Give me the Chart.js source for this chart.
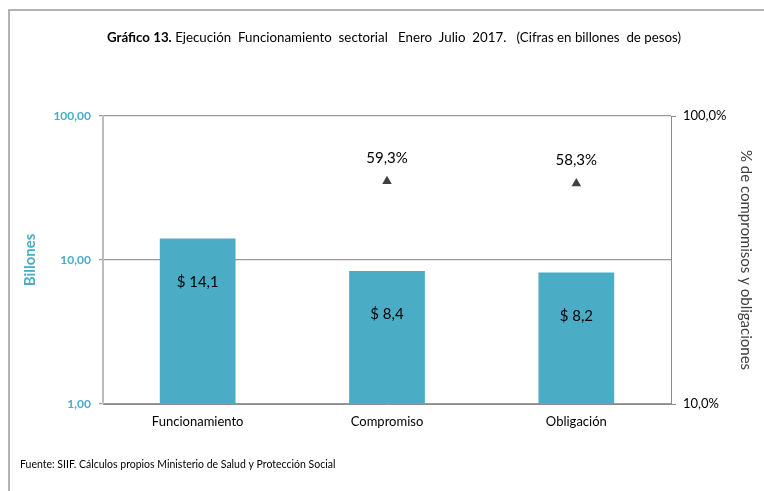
<!DOCTYPE html>
<html>
<head>
<meta charset="utf-8">
<script src="https://cdn.jsdelivr.net/npm/chart.js@4.4.1/dist/chart.umd.min.js"></script>
<style>
html,body{margin:0;padding:0;background:#fff;}
#wrap{position:relative;width:764px;height:491px;}
</style>
</head>
<body>
<div id="wrap"><canvas id="c" width="764" height="491"></canvas></div>
<script>
const categories = ['Funcionamiento', 'Compromiso', 'Obligación'];
const billones = [14.1, 8.4, 8.2];
const porcentaje = [null, 0.593, 0.583];
const leftTicks = [1, 10, 100];
const rightTicks = [0.1, 1];
const titleBold = 'Gráfico 13.';
const titleRest = ' Ejecución  Funcionamiento  sectorial   Enero  Julio  2017.   (Cifras en billones  de pesos)';
const source = 'Fuente: SIIF. Cálculos propios Ministerio de Salud y Protección Social';

const FONT = 'Lato, "Open Sans", sans-serif';
const TEAL = '#4BACC6';

const fmt = (v, d) => v.toFixed(d).replace('.', ',');

const decor = {
  id: 'decor',
  beforeDraw(chart) {
    const ctx = chart.ctx;
    ctx.save();
    ctx.fillStyle = '#fff';
    ctx.fillRect(0, 0, chart.width, chart.height);
    ctx.strokeStyle = '#9a9a9a';
    ctx.lineWidth = 1.5;
    ctx.beginPath();
    ctx.moveTo(9, chart.height);
    ctx.lineTo(9, 10);
    ctx.lineTo(chart.width, 10);
    ctx.stroke();
    ctx.restore();
  },
  afterDraw(chart) {
    const ctx = chart.ctx;
    ctx.save();
    // title
    ctx.textBaseline = 'middle';
    ctx.fillStyle = '#000';
    ctx.font = 'bold 13.3px ' + FONT;
    const wb = ctx.measureText(titleBold).width;
    ctx.font = '13.3px ' + FONT;
    const wr = ctx.measureText(titleRest).width;
    const cx = 394;
    let x0 = cx - (wb + wr) / 2;
    ctx.textAlign = 'left';
    ctx.font = 'bold 13.3px ' + FONT;
    ctx.fillText(titleBold, x0, 38);
    ctx.font = '13.3px ' + FONT;
    ctx.fillText(titleRest, x0 + wb, 38);
    // source
    ctx.font = '10.5px ' + FONT;
    ctx.fillStyle = '#000';
    ctx.fillText(source, 20, 465);
    // bar labels
    const yS = chart.scales.y;
    const barMeta = chart.getDatasetMeta(0);
    ctx.textAlign = 'center';
    ctx.font = '15px ' + FONT;
    barMeta.data.forEach((el, i) => {
      const v = billones[i];
      ctx.fillText('$ ' + fmt(v, 1), el.x, yS.getPixelForValue(v / 2));
    });
    // percent labels
    const ptMeta = chart.getDatasetMeta(1);
    ptMeta.data.forEach((el, i) => {
      const v = porcentaje[i];
      if (v == null) return;
      ctx.fillText(fmt(v * 100, 1) + '%', el.x, el.y - 23);
    });
    ctx.restore();
  }
};

new Chart(document.getElementById('c'), {
  type: 'bar',
  data: {
    labels: categories,
    datasets: [
      {
        label: 'Billones',
        data: billones,
        backgroundColor: TEAL,
        borderWidth: 0,
        categoryPercentage: 1,
        barPercentage: 0.4,
        yAxisID: 'y',
        order: 2
      },
      {
        type: 'line',
        label: '%',
        data: porcentaje,
        yAxisID: 'y2',
        showLine: false,
        pointStyle: 'triangle',
        pointRadius: 5.5,
        pointBackgroundColor: '#404040',
        pointBorderColor: '#404040',
        pointBorderWidth: 0,
        order: 1
      }
    ]
  },
  plugins: [decor],
  options: {
    responsive: false,
    animation: false,
    events: [],
    layout: { padding: { left: 0, right: 0, top: 116, bottom: 0 } },
    plugins: { legend: { display: false }, tooltip: { enabled: false } },
    scales: {
      x: {
        offset: true,
        grid: { display: false, drawTicks: false },
        border: { display: true, color: '#8c8c8c', width: 1 },
        ticks: { color: '#000', font: { family: FONT, size: 13 }, padding: 10 },
        afterFit(s) { s.height = 87; }
      },
      y: {
        type: 'logarithmic',
        position: 'left',
        min: 1,
        max: 100,
        afterBuildTicks(s) { s.ticks = leftTicks.map(v => ({ value: v })); },
        ticks: {
          color: TEAL,
          font: { family: FONT, size: 12, weight: 'bold' },
          padding: 8,
          callback: v => fmt(v, 2)
        },
        grid: { color: '#9a9a9a', lineWidth: 1.2, tickLength: 4 },
        border: { display: true, color: '#bdbdbd', width: 2 },
        title: {
          display: true,
          text: 'Billones',
          color: TEAL,
          font: { family: FONT, size: 15, weight: 'bold' },
          padding: { top: 21, bottom: 0 }
        },
        afterFit(s) { s.width = 103; }
      },
      y2: {
        type: 'logarithmic',
        position: 'right',
        min: 0.1,
        max: 1,
        afterBuildTicks(s) { s.ticks = rightTicks.map(v => ({ value: v })); },
        ticks: {
          color: '#000',
          font: { family: FONT, size: 13 },
          padding: 7,
          callback: v => fmt(v * 100, 1) + '%'
        },
        grid: { display: true, drawOnChartArea: false, color: '#8c8c8c', tickLength: 5 },
        border: { display: true, color: '#8c8c8c', width: 1 },
        title: {
          display: true,
          text: '% de compromisos y obligaciones',
          color: '#404040',
          font: { family: FONT, size: 15 },
          padding: { top: 9, bottom: 0 }
        },
        afterFit(s) { s.width = 93; }
      }
    }
  }
});
</script>
</body>
</html>
